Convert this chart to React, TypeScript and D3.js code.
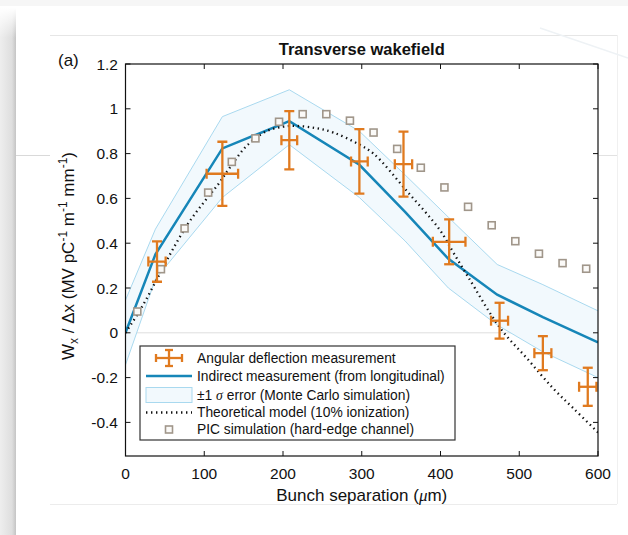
import React from "react";
import * as d3 from "d3";

const xTicks = [0, 100, 200, 300, 400, 500, 600];
const yTicks = [-0.4, -0.2, 0, 0.2, 0.4, 0.6, 0.8, 1, 1.2];

// Indirect measurement (from longitudinal) and ±1σ band
const indX = [0, 38, 123, 208, 297, 355, 410, 472, 530, 600];
const indY = [0, 0.35, 0.823, 0.945, 0.75, 0.54, 0.33, 0.17, 0.07, -0.043];
const bandUpper = [0.146, 0.463, 0.965, 1.085, 0.9, 0.705, 0.516, 0.305, 0.215, 0.098];
const bandLower = [-0.143, 0.24, 0.604, 0.84, 0.604, 0.41, 0.2, 0.035, -0.085, -0.2];

// Theoretical model (10% ionization)
const theoX = [0, 20, 40, 59, 80, 100, 118, 135, 154, 179, 200, 213, 240, 264, 296, 315, 357, 399, 416, 435, 476, 510, 543, 569, 600];
const theoY = [0, 0.11, 0.24, 0.366, 0.49, 0.585, 0.664, 0.75, 0.835, 0.9, 0.92, 0.924, 0.915, 0.894, 0.842, 0.8, 0.634, 0.46, 0.36, 0.25, 0.02, -0.115, -0.248, -0.338, -0.445];

// PIC simulation (hard-edge channel)
const picX = [15, 45, 75, 105, 135, 165, 195, 225, 255, 285, 315, 345, 375, 405, 435, 465, 495, 525, 555, 585];
const picY = [0.095, 0.284, 0.466, 0.626, 0.763, 0.868, 0.942, 0.976, 0.976, 0.947, 0.894, 0.821, 0.737, 0.649, 0.5625, 0.48, 0.409, 0.353, 0.311, 0.286];

// Angular deflection measurement
const angX = [40, 123, 208, 297, 353, 411, 475, 530, 587];
const angY = [0.318, 0.71, 0.86, 0.765, 0.753, 0.406, 0.054, -0.091, -0.241];
const angYErr = [0.09, 0.143, 0.13, 0.144, 0.145, 0.1, 0.08, 0.076, 0.085];
const angXErr = [11, 20, 10, 10.6, 11, 20.7, 10.8, 10.8, 11];

const ORANGE = "#e07a1f";
const BLUE = "#1686b8";
const BAND_FILL = "#f2f9fd";
const BAND_EDGE = "#a9d9ef";
const SQ = "#a0968a";
const FONT = "'Liberation Sans', Arial, Helvetica, sans-serif";

export default function App() {
  const x = d3.scaleLinear().domain([0, 600]).range([125.5, 598]);
  const y = d3.scaleLinear().domain([-0.55, 1.2]).range([456, 64]);
  const left = x(0), right = x(600), top = y(1.2), bottom = y(-0.55);

  const idx = d3.range(indX.length);
  const area = d3
    .area<number>()
    .x((i) => x(indX[i]))
    .y0((i) => y(bandLower[i]))
    .y1((i) => y(bandUpper[i]));
  const upperLine = d3.line<number>().x((i) => x(indX[i])).y((i) => y(bandUpper[i]));
  const lowerLine = d3.line<number>().x((i) => x(indX[i])).y((i) => y(bandLower[i]));
  const indLine = d3.line<number>().x((i) => x(indX[i])).y((i) => y(indY[i]));
  const theoLine = d3
    .line<number>()
    .x((i) => x(theoX[i]))
    .y((i) => y(theoY[i]))
    .curve(d3.curveCatmullRom);

  const cap = 5;
  const lx = 146, lx2 = 192, lmid = 169, ltext = 197;
  const rows = [358, 376, 395, 412.5, 429.5];

  return (
    <svg width={628} height={535} style={{ position: "absolute", left: 0, top: 0 }}>
      <defs>
        <linearGradient id="shadow" x1="0" x2="1" y1="0" y2="0">
          <stop offset="0" stopColor="#eeeeee" />
          <stop offset="0.75" stopColor="#dedede" />
          <stop offset="1" stopColor="#c4c4c4" />
        </linearGradient>
        <linearGradient id="shadowTop" x1="0" x2="0" y1="0" y2="1">
          <stop offset="0" stopColor="#ffffff" stopOpacity="1" />
          <stop offset="1" stopColor="#ffffff" stopOpacity="0" />
        </linearGradient>
        <clipPath id="plotClip">
          <rect x={left} y={top} width={right - left} height={bottom - top} />
        </clipPath>
      </defs>
      <rect x={0} y={0} width={628} height={535} fill="#ffffff" />
      <rect x={0} y={0} width={628} height={6} fill="#f6f6f6" />
      <rect x={0} y={8} width={16} height={527} fill="url(#shadow)" />
      <rect x={0} y={8} width={16} height={30} fill="url(#shadowTop)" />
      {/* faint page artifacts */}
      <line x1={50} x2={617} y1={35.5} y2={35.5} stroke="#e6e6e6" />
      <line x1={50} x2={617} y1={504.5} y2={504.5} stroke="#ececec" />
      <line x1={617.5} x2={617.5} y1={35} y2={504} stroke="#f0f0f0" />
      <line x1={16} x2={50} y1={155.5} y2={155.5} stroke="#d9d9d9" />
      <line x1={599} x2={617} y1={155.5} y2={155.5} stroke="#e2e2e2" />
      <line x1={540} x2={628} y1={28} y2={58} stroke="#eef2f5" strokeWidth={1.5} />

      {/* zero line artifact */}
      <line x1={left} x2={right} y1={y(0)} y2={y(0)} stroke="#dedede" />

      <g clipPath="url(#plotClip)">
        <path d={area(idx) || ""} fill={BAND_FILL} />
        <path d={upperLine(idx) || ""} fill="none" stroke={BAND_EDGE} strokeWidth={1} />
        <path d={lowerLine(idx) || ""} fill="none" stroke={BAND_EDGE} strokeWidth={1} />
        <path d={indLine(idx) || ""} fill="none" stroke={BLUE} strokeWidth={2.5} />
        <path
          d={theoLine(d3.range(theoX.length)) || ""}
          fill="none"
          stroke="#111"
          strokeWidth={2.3}
          strokeDasharray="1.4 3.6"
        />
        {picX.map((v, i) => (
          <rect
            key={"p" + i}
            x={x(v) - 3.5}
            y={y(picY[i]) - 3.5}
            width={7}
            height={7}
            fill="#fbfaf8"
            stroke={SQ}
            strokeWidth={1.6}
          />
        ))}
        {angX.map((v, i) => {
          const cx = x(v), cy = y(angY[i]);
          const yt = y(angY[i] + angYErr[i]), yb = y(angY[i] - angYErr[i]);
          const xl = x(v - angXErr[i]), xr = x(v + angXErr[i]);
          return (
            <g key={"a" + i} stroke={ORANGE} strokeWidth={2.3} fill="none">
              <line x1={cx} x2={cx} y1={yt} y2={yb} />
              <line x1={cx - cap} x2={cx + cap} y1={yt} y2={yt} />
              <line x1={cx - cap} x2={cx + cap} y1={yb} y2={yb} />
              <line x1={xl} x2={xr} y1={cy} y2={cy} />
              <line x1={xl} x2={xl} y1={cy - cap} y2={cy + cap} />
              <line x1={xr} x2={xr} y1={cy - cap} y2={cy + cap} />
            </g>
          );
        })}
      </g>

      {/* axes box */}
      <rect x={left} y={top} width={right - left} height={bottom - top} fill="none" stroke="#111" strokeWidth={1.2} />
      {xTicks.map((t) => (
        <g key={"xt" + t}>
          <line x1={x(t)} x2={x(t)} y1={bottom} y2={bottom - 5} stroke="#111" />
          <line x1={x(t)} x2={x(t)} y1={top} y2={top + 5} stroke="#111" />
          <text x={x(t)} y={473} textAnchor="middle" dominantBaseline="central" fontFamily={FONT} fontSize={15.5} fill="#111">
            {t}
          </text>
        </g>
      ))}
      {yTicks.map((t) => (
        <g key={"yt" + t}>
          <line x1={left} x2={left + 5} y1={y(t)} y2={y(t)} stroke="#111" />
          <line x1={right} x2={right - 5} y1={y(t)} y2={y(t)} stroke="#111" />
          <text x={118} y={y(t)} textAnchor="end" dominantBaseline="central" fontFamily={FONT} fontSize={15.5} fill="#111">
            {String(Math.round(t * 10) / 10)}
          </text>
        </g>
      ))}

      {/* title and labels */}
      <text x={(left + right) / 2} y={49} textAnchor="middle" dominantBaseline="central" fontFamily={FONT} fontSize={16.5} fontWeight="bold" fill="#111">
        Transverse wakefield
      </text>
      <text x={58} y={60} dominantBaseline="central" fontFamily={FONT} fontSize={17} fill="#111">
        (a)
      </text>
      <text x={(left + right) / 2} y={495} textAnchor="middle" dominantBaseline="central" fontFamily={FONT} fontSize={17} fill="#111">
        Bunch separation (<tspan fontStyle="italic" fontFamily="'Liberation Serif', serif">μ</tspan>m)
      </text>
      <text
        transform={`translate(74, ${(top + bottom) / 2 - 4}) rotate(-90)`}
        textAnchor="middle"
        fontFamily={FONT}
        fontSize={17}
        fill="#111"
      >
        W<tspan fontSize={12} dy={4}>x</tspan>
        <tspan dy={-4}> / Δx (MV pC</tspan>
        <tspan fontSize={12} dy={-7}>-1</tspan>
        <tspan dy={7}> m</tspan>
        <tspan fontSize={12} dy={-7}>-1</tspan>
        <tspan dy={7}> mm</tspan>
        <tspan fontSize={12} dy={-7}>-1</tspan>
        <tspan dy={7}>)</tspan>
      </text>

      {/* legend */}
      <rect x={140} y={346} width={315} height={94} fill="#ffffff" stroke="#333" strokeWidth={1.2} />
      <g stroke={ORANGE} strokeWidth={2.3}>
        <line x1={lmid} x2={lmid} y1={rows[0] - 8} y2={rows[0] + 8} />
        <line x1={lmid - 4} x2={lmid + 4} y1={rows[0] - 8} y2={rows[0] - 8} />
        <line x1={lmid - 4} x2={lmid + 4} y1={rows[0] + 8} y2={rows[0] + 8} />
        <line x1={156} x2={182} y1={rows[0]} y2={rows[0]} />
        <line x1={156} x2={156} y1={rows[0] - 4} y2={rows[0] + 4} />
        <line x1={182} x2={182} y1={rows[0] - 4} y2={rows[0] + 4} />
      </g>
      <line x1={lx} x2={lx2} y1={rows[1]} y2={rows[1]} stroke={BLUE} strokeWidth={2.5} />
      <rect x={lx} y={rows[2] - 7.5} width={lx2 - lx} height={15} fill={BAND_FILL} stroke={BAND_EDGE} strokeWidth={1} />
      <line x1={lx} x2={lx2} y1={rows[3]} y2={rows[3]} stroke="#111" strokeWidth={2.3} strokeDasharray="1.4 3.6" />
      <rect x={lmid - 3.5} y={rows[4] - 3.5} width={7} height={7} fill="#fbfaf8" stroke={SQ} strokeWidth={1.6} />
      <g fontFamily={FONT} fontSize={13.8} fill="#111">
        <text x={ltext} y={rows[0]} dominantBaseline="central">Angular deflection measurement</text>
        <text x={ltext} y={rows[1]} dominantBaseline="central">Indirect measurement (from longitudinal)</text>
        <text x={ltext} y={rows[2]} dominantBaseline="central">
          ±1 <tspan fontStyle="italic" fontFamily="'Liberation Serif', serif">σ</tspan> error (Monte Carlo simulation)
        </text>
        <text x={ltext} y={rows[3]} dominantBaseline="central">Theoretical model (10% ionization)</text>
        <text x={ltext} y={rows[4]} dominantBaseline="central">PIC simulation (hard-edge channel)</text>
      </g>
    </svg>
  );
}
